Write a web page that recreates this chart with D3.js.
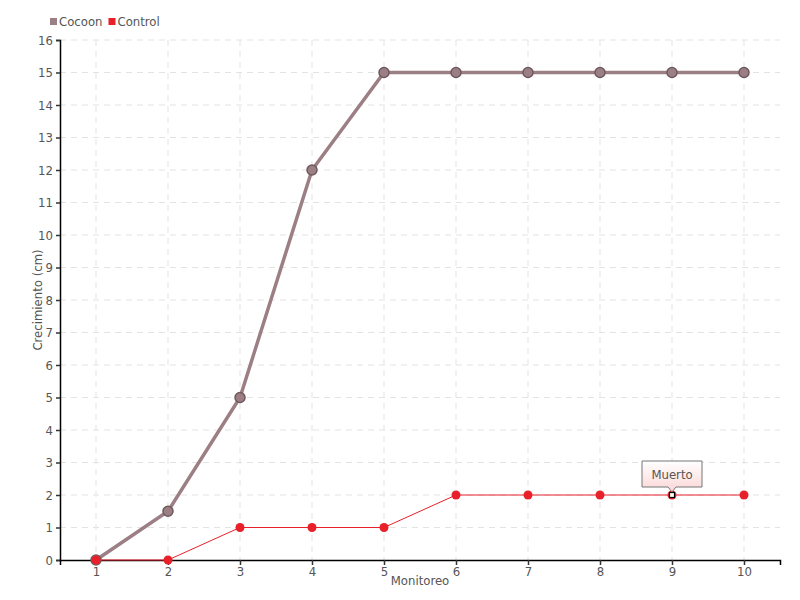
<!DOCTYPE html>
<html>
<head>
<meta charset="utf-8">
<script src="https://cdn.jsdelivr.net/npm/d3@7"></script>
<style>
body { margin: 0; background: #fff; }
text { font-family: "DejaVu Sans Condensed", "Liberation Sans Narrow", sans-serif; fill: #555; }
</style>
</head>
<body>
<svg id="chart" width="800" height="600"></svg>
<script>
var monitoreo = ["1","2","3","4","5","6","7","8","9","10"];
var cocoon = [0, 1.5, 5, 12, 15, 15, 15, 15, 15, 15];
var control = [0, 0, 1, 1, 1, 2, 2, 2, 2, 2];
var yTicks = d3.range(0, 17);
var deadIndex = 8;
var deadLabel = "Muerto";

var svg = d3.select("#chart");
var margin = {left: 60, right: 20, top: 40, bottom: 40};
var w = 800 - margin.left - margin.right, h = 600 - margin.top - margin.bottom;

var x = d3.scalePoint().domain(monitoreo).range([0, w]).padding(0.5);
var y = d3.scaleLinear().domain([0, 16]).range([h, 0]);

var g = svg.append("g").attr("transform", "translate(" + margin.left + "," + margin.top + ")");

// grid
g.append("g").selectAll("line").data(yTicks.slice(1)).enter().append("line")
  .attr("x1", 0).attr("x2", w)
  .attr("y1", d => y(d)).attr("y2", d => y(d))
  .attr("stroke", "#e3e3e3").attr("stroke-dasharray", "6,5");
g.append("g").selectAll("line").data(monitoreo).enter().append("line")
  .attr("x1", d => x(d)).attr("x2", d => x(d))
  .attr("y1", 0).attr("y2", h)
  .attr("stroke", "#e3e3e3").attr("stroke-dasharray", "6,5");

// axes
var yAxis = g.append("g").call(d3.axisLeft(y).tickValues(yTicks).tickSize(4).tickPadding(3));
var xAxis = g.append("g").attr("transform", "translate(0," + h + ")")
  .call(d3.axisBottom(x).tickSize(5).tickPadding(2));
[yAxis, xAxis].forEach(function(a) {
  a.select(".domain").attr("stroke", "#000").attr("stroke-width", 1.5);
  a.selectAll(".tick line").attr("stroke", "#333").attr("stroke-width", 1.5);
  a.selectAll("text").attr("font-size", 13).style("fill", "#555");
});

// titles
g.append("text").attr("x", w / 2).attr("y", h + 25).attr("text-anchor", "middle")
  .attr("font-size", 13).text("Monitoreo");
g.append("text").attr("transform", "translate(-18," + (h / 2) + ") rotate(-90)")
  .attr("text-anchor", "middle").attr("font-size", 13).text("Crecimiento (cm)");

var line = d3.line().x((d, i) => x(monitoreo[i])).y(d => y(d));

// Cocoon
g.append("path").datum(cocoon).attr("d", line).attr("fill", "none")
  .attr("stroke", "#9c7f85").attr("stroke-width", 3.5);
g.append("g").selectAll("circle").data(cocoon).enter().append("circle")
  .attr("cx", (d, i) => x(monitoreo[i])).attr("cy", d => y(d)).attr("r", 5)
  .attr("fill", "#9c7f85").attr("stroke", "#6e5a5e").attr("stroke-width", 1.5);

// Control
g.append("path").datum(control).attr("d", line).attr("fill", "none")
  .attr("stroke", "#e8202a").attr("stroke-width", 1);
g.append("g").selectAll("circle").data(control).enter().append("circle")
  .attr("cx", (d, i) => x(monitoreo[i])).attr("cy", d => y(d)).attr("r", 4.5)
  .attr("fill", "#e8202a");

// dead marker + tooltip
var dx = x(monitoreo[deadIndex]), dy = y(control[deadIndex]);
g.append("rect").attr("x", dx - 2.5).attr("y", dy - 2.5).attr("width", 5).attr("height", 5)
  .attr("fill", "#fff").attr("stroke", "#000").attr("stroke-width", 1.2);

var defs = svg.append("defs");
var grad = defs.append("linearGradient").attr("id", "tipgrad").attr("x1", 0).attr("y1", 0).attr("x2", 0).attr("y2", 1);
grad.append("stop").attr("offset", "0%").attr("stop-color", "#ffffff");
grad.append("stop").attr("offset", "100%").attr("stop-color", "#fcd6d6");
var tw = 60, th = 26, ty = dy - 34;
g.append("path")
  .attr("d", "M" + (dx - tw / 2) + "," + ty + "h" + tw + "v" + th + "h" + (-(tw / 2 - 4)) + "l-4,5l-4,-5h" + (-(tw / 2 - 4)) + "z")
  .attr("fill", "url(#tipgrad)").attr("stroke", "#777").attr("stroke-width", 1);
g.append("text").attr("x", dx).attr("y", ty + 18).attr("text-anchor", "middle")
  .attr("font-size", 13).text(deadLabel);

// legend
var legendData = [{name: "Cocoon", color: "#9c7f85"}, {name: "Control", color: "#e8202a"}];
var lg = svg.append("g").attr("transform", "translate(50,22)");
var lx = 0;
legendData.forEach(function(d) {
  lg.append("rect").attr("x", lx).attr("y", -4).attr("width", 7).attr("height", 7).attr("fill", d.color);
  var t = lg.append("text").attr("x", lx + 9).attr("y", 4).attr("font-size", 13).text(d.name);
  lx += 9 + t.node().getComputedTextLength() + 6;
});
</script>
</body>
</html>
